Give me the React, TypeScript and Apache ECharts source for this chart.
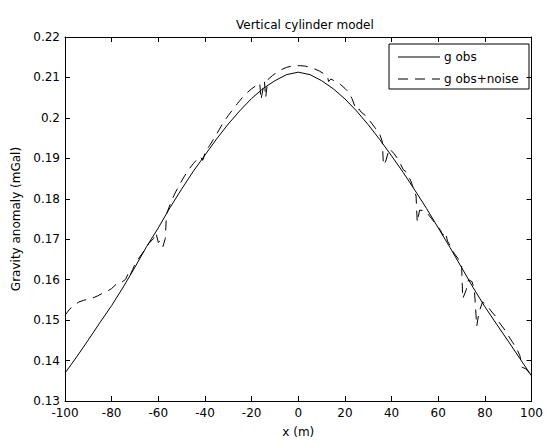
import React, { useEffect, useRef } from "react";
import * as echarts from "echarts";

// Solid curve: g obs
const obsX = [-100, -95, -90, -85, -80, -75, -70, -65, -60, -55, -50, -45, -40, -35, -30, -25, -20, -15, -10, -5, 0,
  5, 10, 15, 20, 25, 30, 35, 40, 45, 50, 55, 60, 65, 70, 75, 80, 85, 90, 95, 100];
const obsY = [0.1369, 0.1409, 0.1451, 0.1494, 0.1536, 0.1582, 0.1631, 0.1682, 0.1728, 0.1778, 0.1824, 0.1868, 0.1908, 0.1948, 0.1985, 0.2018, 0.2048, 0.2073, 0.2092, 0.2107, 0.2113,
  0.2107, 0.2092, 0.2072, 0.2047, 0.2017, 0.1983, 0.1946, 0.1906, 0.1865, 0.1821, 0.1776, 0.1728, 0.1680, 0.1630, 0.1580, 0.1533, 0.1490, 0.1448, 0.1405, 0.1362];

// Dashed curve: g obs+noise
const noiseX = [-100, -98, -96, -94, -92, -90, -88, -86, -84, -82, -80, -78, -77, -76, -74, -73, -72.5, -72, -71, -70, -68, -66, -64, -62, -61, -60, -59, -58, -57, -56.5, -55, -53, -51, -49, -47, -45, -43, -42, -41, -40.5, -40, -38, -36, -34, -32, -30, -28, -26, -24, -22, -20, -18, -16.5, -16, -15, -14.5, -14, -13, -11, -9, -7, -5, -3, -1,
  1, 3, 5, 7, 9, 11, 12.5, 13, 14, 16, 18, 20, 21.5, 23, 24.5, 25.5, 26, 27, 29, 31, 33, 35, 36, 36.5, 37.5, 39, 41, 43, 45, 46, 47, 48, 49, 50.5, 51, 52, 54.5, 57, 59.5, 61, 62, 63, 64, 65, 66.5, 68.5, 70, 70.5, 72, 73, 74.5, 75.5, 76.5, 77.5, 79, 81, 83, 84.5, 86, 88, 90, 92, 94, 95, 96, 97.5, 99, 100];
const noiseY = [0.1512, 0.1527, 0.1537, 0.1545, 0.1549, 0.1552, 0.1555, 0.1560, 0.1566, 0.1571, 0.1578, 0.1589, 0.1588, 0.1592, 0.1601, 0.1614, 0.1606, 0.1612, 0.1625, 0.1638, 0.1656, 0.1672, 0.1690, 0.1702, 0.1716, 0.1692, 0.1697, 0.1682, 0.1702, 0.1762, 0.1785, 0.1812, 0.1834, 0.1854, 0.1872, 0.1887, 0.1900, 0.1904, 0.1895, 0.1902, 0.1914, 0.1932, 0.1950, 0.1970, 0.1990, 0.2006, 0.2021, 0.2036, 0.2050, 0.2062, 0.2072, 0.2080, 0.2086, 0.2045, 0.2075, 0.2090, 0.2050, 0.2095, 0.2105, 0.2113, 0.2120, 0.2125, 0.2128, 0.2129,
  0.2129, 0.2128, 0.2125, 0.2121, 0.2116, 0.2109, 0.2103, 0.2090, 0.2096, 0.2090, 0.2083, 0.2073, 0.2064, 0.2048, 0.2025, 0.2018, 0.2022, 0.2014, 0.2005, 0.1990, 0.1975, 0.1958, 0.1942, 0.1883, 0.1893, 0.1924, 0.1912, 0.1896, 0.1872, 0.1868, 0.1852, 0.1848, 0.1832, 0.1807, 0.1742, 0.1772, 0.1770, 0.1752, 0.1733, 0.1722, 0.1710, 0.1718, 0.1695, 0.1685, 0.1668, 0.1652, 0.1638, 0.1553, 0.1575, 0.1600, 0.1595, 0.1575, 0.1485, 0.1520, 0.1545, 0.1535, 0.1520, 0.1510, 0.1495, 0.1480, 0.1462, 0.1444, 0.1425, 0.1412, 0.1383, 0.1380, 0.1370, 0.1360];

const xTicks = { min: -100, max: 100, interval: 20 };
const yTicks = { min: 0.13, max: 0.22, interval: 0.01 };

const seriesNames = ["g obs", "g obs+noise"];
const titleText = "Vertical cylinder model";
const xName = "x (m)";
const yName = "Gravity anomaly (mGal)";

const FONT = "DejaVu Sans";
const DASH = [10, 7];

export default function App() {
  const ref = useRef<HTMLDivElement>(null);
  useEffect(() => {
    if (!ref.current) return;
    const chart = echarts.init(ref.current, undefined, { renderer: "svg" });
    const axisCommon = {
      axisLine: { show: true, onZero: false, lineStyle: { color: "#000", width: 1 } },
      axisTick: { show: true, inside: true, length: 5, lineStyle: { color: "#000" } },
      splitLine: { show: false },
    };
    const fmtY = (v: number) => String(+v.toFixed(2));
    const legendBox = { x: 389, y: 44, w: 140, h: 45 };
    chart.setOption({
      animation: false,
      backgroundColor: "#fff",
      title: {
        text: titleText,
        left: 231,
        top: 14,
        textStyle: { fontFamily: FONT, fontSize: 12, fontWeight: "normal", color: "#000" },
      },
      grid: { left: 65, right: 11, top: 37, bottom: 38, containLabel: false },
      xAxis: [
        {
          type: "value",
          position: "bottom",
          ...xTicks,
          ...axisCommon,
          name: xName,
          nameLocation: "middle",
          nameGap: 25,
          nameTextStyle: { fontFamily: FONT, fontSize: 12, color: "#000" },
          axisLabel: { margin: 6, fontFamily: FONT, fontSize: 12, color: "#000" },
        },
        {
          type: "value",
          position: "top",
          ...xTicks,
          ...axisCommon,
          axisLabel: { show: false },
        },
      ],
      yAxis: [
        {
          type: "value",
          position: "left",
          ...yTicks,
          ...axisCommon,
          name: yName,
          nameLocation: "middle",
          nameGap: 41,
          nameTextStyle: { fontFamily: FONT, fontSize: 12, color: "#000" },
          axisLabel: { margin: 5, fontFamily: FONT, fontSize: 12, color: "#000", formatter: fmtY },
        },
        {
          type: "value",
          position: "right",
          ...yTicks,
          ...axisCommon,
          axisLabel: { show: false },
        },
      ],
      graphic: [
        {
          type: "group",
          z: 100,
          children: [
            {
              type: "rect",
              shape: { x: legendBox.x, y: legendBox.y, width: legendBox.w, height: legendBox.h },
              style: { fill: "#fff", stroke: "#000", lineWidth: 1 },
            },
            {
              type: "line",
              shape: { x1: 398, y1: 57, x2: 440, y2: 57 },
              style: { stroke: "#000", lineWidth: 1 },
            },
            {
              type: "line",
              shape: { x1: 398, y1: 79, x2: 440, y2: 79 },
              style: { stroke: "#000", lineWidth: 1, lineDash: DASH },
            },
            {
              type: "text",
              x: 444,
              y: 57,
              style: { text: seriesNames[0], fontFamily: FONT, fontSize: 12, fill: "#000", verticalAlign: "middle", align: "left" },
            },
            {
              type: "text",
              x: 444,
              y: 79,
              style: { text: seriesNames[1], fontFamily: FONT, fontSize: 12, fill: "#000", verticalAlign: "middle", align: "left" },
            },
          ],
        },
      ],
      series: [
        {
          name: seriesNames[0],
          type: "line",
          symbol: "none",
          showSymbol: false,
          smooth: false,
          lineStyle: { color: "#000", width: 1, type: "solid" },
          itemStyle: { color: "#000" },
          data: obsX.map((x, i) => [x, obsY[i]]),
        },
        {
          name: seriesNames[1],
          type: "line",
          symbol: "none",
          showSymbol: false,
          smooth: false,
          lineStyle: { color: "#000", width: 1, type: DASH },
          itemStyle: { color: "#000" },
          data: noiseX.map((x, i) => [x, noiseY[i]]),
        },
      ],
    });
    return () => chart.dispose();
  }, []);
  return (
    <div
      ref={ref}
      style={{ position: "fixed", left: 0, top: 0, width: 546, height: 443, background: "#fff" }}
    />
  );
}
